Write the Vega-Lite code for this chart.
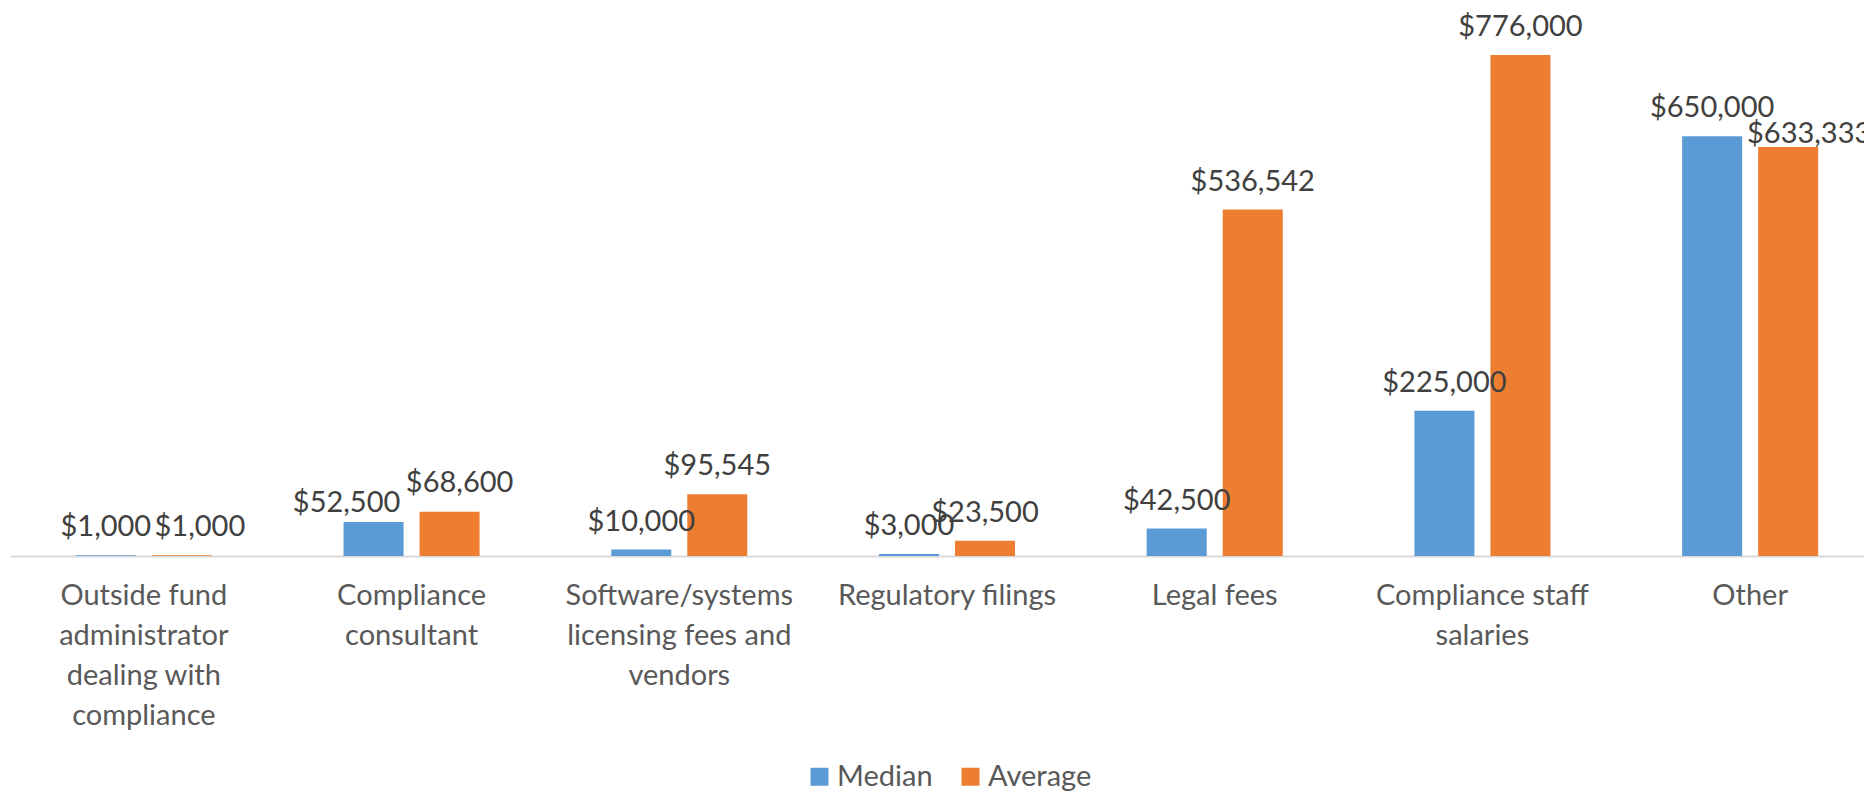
{
  "$schema": "https://vega.github.io/schema/vega-lite/v6.json",
  "width": 1854,
  "height": 556,
  "autosize": "none",
  "padding": {"left": 10, "top": 0, "right": 0, "bottom": 236},
  "background": "white",
  "config": {"view": {"stroke": null}, "font": "Lato"},
  "data": {
    "values": [
      {"category": "Outside fund administrator dealing with compliance", "series": "Median", "value": 1000},
      {"category": "Outside fund administrator dealing with compliance", "series": "Average", "value": 1000},
      {"category": "Compliance consultant", "series": "Median", "value": 52500},
      {"category": "Compliance consultant", "series": "Average", "value": 68600},
      {"category": "Software/systems licensing fees and vendors", "series": "Median", "value": 10000},
      {"category": "Software/systems licensing fees and vendors", "series": "Average", "value": 95545},
      {"category": "Regulatory filings", "series": "Median", "value": 3000},
      {"category": "Regulatory filings", "series": "Average", "value": 23500},
      {"category": "Legal fees", "series": "Median", "value": 42500},
      {"category": "Legal fees", "series": "Average", "value": 536542},
      {"category": "Compliance staff salaries", "series": "Median", "value": 225000},
      {"category": "Compliance staff salaries", "series": "Average", "value": 776000},
      {"category": "Other", "series": "Median", "value": 650000},
      {"category": "Other", "series": "Average", "value": 633333}
    ]
  },
  "encoding": {
    "x": {
      "field": "category",
      "type": "nominal",
      "sort": null,
      "scale": {"range": [0, 1874], "paddingInner": 0, "paddingOuter": 0},
      "axis": {
        "title": null,
        "labelAngle": 0,
        "ticks": false,
        "domainColor": "#d9d9d9",
        "domainWidth": 2,
        "labelFont": "Lato",
        "labelFontSize": 29,
        "labelColor": "#595959",
        "labelLineHeight": 40,
        "labelPadding": 25,
        "labelLimit": 0,
        "labelOverlap": false,
        "labelExpr": "datum.value == 'Outside fund administrator dealing with compliance' ? ['Outside fund', 'administrator', 'dealing with', 'compliance'] : datum.value == 'Compliance consultant' ? ['Compliance', 'consultant'] : datum.value == 'Software/systems licensing fees and vendors' ? ['Software/systems', 'licensing fees and', 'vendors'] : datum.value == 'Compliance staff salaries' ? ['Compliance staff', 'salaries'] : datum.value"
      }
    },
    "xOffset": {
      "field": "series",
      "type": "nominal",
      "sort": ["Median", "Average"],
      "scale": {"paddingInner": 0.2105, "paddingOuter": 0.866}
    },
    "y": {
      "field": "value",
      "type": "quantitative",
      "scale": {"domain": [0, 861000], "nice": false, "zero": true},
      "axis": null
    }
  },
  "layer": [
    {
      "mark": {"type": "bar"},
      "encoding": {
        "color": {
          "field": "series",
          "type": "nominal",
          "sort": ["Median", "Average"],
          "scale": {"domain": ["Median", "Average"], "range": ["#5B9BD5", "#ED7D31"]},
          "legend": {
            "title": null,
            "orient": "none",
            "legendX": 795,
            "legendY": 762,
            "direction": "horizontal",
            "symbolType": "square",
            "symbolSize": 324,
            "symbolStrokeWidth": 0,
            "labelFont": "Lato",
            "labelFontSize": 29,
            "labelColor": "#595959",
            "labelOffset": 3,
            "columnPadding": 23,
            "padding": 0
          }
        }
      }
    },
    {
      "transform": [
        {"filter": "!((datum.category == 'Outside fund administrator dealing with compliance' && datum.series == 'Average') || datum.category == 'Compliance consultant' || (datum.category == 'Other' && datum.series == 'Average'))"}
      ],
      "mark": {"type": "text", "font": "Lato", "fontSize": 29, "color": "#404040", "baseline": "alphabetic", "align": "center", "dy": -19},
      "encoding": {"text": {"field": "value", "type": "quantitative", "format": "$,.0f"}}
    },
    {
      "transform": [
        {"filter": "datum.category == 'Outside fund administrator dealing with compliance' && datum.series == 'Average'"}
      ],
      "mark": {"type": "text", "font": "Lato", "fontSize": 29, "color": "#404040", "baseline": "alphabetic", "align": "center", "dy": -19, "dx": 18},
      "encoding": {"text": {"field": "value", "type": "quantitative", "format": "$,.0f"}}
    },
    {
      "transform": [
        {"filter": "datum.category == 'Compliance consultant' && datum.series == 'Median'"}
      ],
      "mark": {"type": "text", "font": "Lato", "fontSize": 29, "color": "#404040", "baseline": "alphabetic", "align": "center", "dy": -10, "dx": -27},
      "encoding": {"text": {"field": "value", "type": "quantitative", "format": "$,.0f"}}
    },
    {
      "transform": [
        {"filter": "datum.category == 'Compliance consultant' && datum.series == 'Average'"}
      ],
      "mark": {"type": "text", "font": "Lato", "fontSize": 29, "color": "#404040", "baseline": "alphabetic", "align": "center", "dy": -20, "dx": 10},
      "encoding": {"text": {"field": "value", "type": "quantitative", "format": "$,.0f"}}
    },
    {
      "transform": [
        {"filter": "datum.category == 'Other' && datum.series == 'Average'"}
      ],
      "mark": {"type": "text", "font": "Lato", "fontSize": 29, "color": "#404040", "baseline": "alphabetic", "align": "center", "dy": -4, "dx": 21},
      "encoding": {"text": {"field": "value", "type": "quantitative", "format": "$,.0f"}}
    }
  ]
}
